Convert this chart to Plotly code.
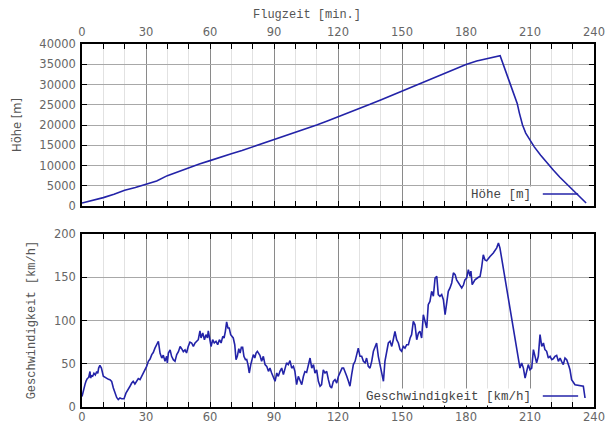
import plotly.graph_objects as go

# ---------------- data ----------------
hoehe_t = [0, 5, 10, 15, 20, 25, 30, 35, 40, 45, 50, 55, 60, 65, 70, 75, 80, 85, 90, 95,
           100, 105, 110, 115, 120, 125, 130, 135, 140, 145, 150, 155, 160, 165, 170,
           175, 180, 185, 190, 196, 200, 204, 205, 206.5, 208, 210, 212, 215, 218, 221,
           224, 227, 230, 233, 236.3]
hoehe_m = [740, 1380, 2070, 2900, 3880, 4550, 5290, 6200, 7500, 8500, 9500, 10400, 11200,
           12100, 12900, 13700, 14600, 15400, 16300, 17200, 18100, 19000, 20000, 21000,
           22000, 23000, 24100, 25100, 26200, 27300, 28400, 29500, 30600, 31700, 32700,
           33700, 34950, 35800, 36450, 37100, 31200, 25330, 23000, 20000, 18000, 16250,
           14600, 12540, 10600, 8830, 7100, 5540, 3900, 2300, 740]

speed_t = [0.0, 0.5, 0.9, 1.5, 1.9, 2.5, 3.1, 3.75, 4.0, 4.5, 5.0, 5.6, 6.25, 6.9, 7.4, 7.8,
           8.4, 9.1, 10.0, 10.8, 11.6, 12.4, 13.1, 13.9, 14.7, 15.5, 16.25, 17.0, 17.8, 18.6,
           19.7, 20.6, 21.7, 22.5, 23.3, 24.0, 24.8, 25.6, 26.4, 27.2, 28.0, 28.75, 29.5, 30.3,
           31.1, 31.9, 32.7, 33.4, 34.2, 35.0, 35.8, 36.6, 37.4, 38.1, 38.9, 39.7, 40.0, 40.5,
           41.3, 42.0, 42.8, 43.6, 44.4, 45.2, 46.0, 46.7, 47.5, 48.3, 49.0, 49.8, 50.6, 51.4,
           52.2, 53.0, 53.8, 54.5, 55.3, 55.8, 56.6, 57.4, 58.1, 58.8, 59.2, 59.7, 60.5, 61.25,
           62.0, 62.8, 63.6, 64.4, 65.2, 66.0, 66.6, 67.2, 67.8, 68.4, 69.0, 69.7, 70.3, 70.9,
           71.6, 72.2, 72.8, 73.5, 74.1, 74.7, 75.3, 75.9, 76.6, 77.2, 77.8, 78.4, 79.1, 79.7,
           80.3, 81.0, 81.6, 82.2, 82.8, 83.4, 84.2, 85.0, 85.8, 86.6, 87.4, 88.1, 88.9, 89.7,
           90.5, 91.3, 92.0, 92.8, 93.6, 94.4, 95.2, 95.9, 96.7, 97.5, 98.3, 99.1, 99.8, 100.6,
           101.4, 102.2, 103.0, 103.8, 104.5, 105.3, 106.1, 106.9, 107.7, 108.5, 109.2, 110.0,
           110.8, 111.6, 112.3, 113.1, 113.9, 114.7, 115.5, 116.3, 117.0, 117.8, 118.6, 119.4,
           120.2, 121.0, 121.9, 122.6, 123.3, 124.1, 124.9, 125.6, 126.4, 127.2, 128.0, 128.8,
           129.5, 130.3, 131.1, 131.9, 132.7, 133.4, 134.2, 135.0, 135.8, 136.6, 137.3, 138.1,
           138.9, 139.7, 140.5, 141.3, 142.0, 142.8, 143.6, 144.4, 145.2, 145.9, 146.7, 147.5,
           148.3, 149.1, 149.8, 150.6, 151.4, 152.2, 153.0, 153.8, 154.5, 155.3, 156.1, 156.9,
           157.7, 158.4, 159.2, 160.0, 160.8, 161.6, 162.3, 163.1, 163.9, 164.7, 165.5, 166.3,
           167.0, 167.8, 168.6, 169.4, 170.2, 171.0, 171.7, 172.5, 173.3, 174.1, 174.9, 175.6,
           176.4, 177.2, 178.0, 178.8, 179.5, 180.3, 181.1, 181.9, 182.3, 182.9, 184.2, 185.8,
           186.6, 187.3, 188.1, 188.9, 189.7, 191.25, 192.8, 194.4, 195.2, 195.9, 197.5, 199.0,
           200.6, 202.2, 203.8, 204.5, 205.3, 206.1, 206.9, 207.7, 208.4, 209.2, 210.0, 210.8,
           211.6, 212.3, 213.1, 213.9, 214.7, 215.5, 216.3, 217.0, 217.8, 218.6, 219.4, 220.2,
           221.0, 221.7, 222.5, 223.3, 224.1, 224.8, 225.6, 226.4, 227.2, 228.0, 228.75, 229.5,
           231.1, 235.0, 235.8]
speed_v = [12, 18, 22, 27, 30, 33, 34, 41, 33.5, 36, 35.5, 39, 37, 41, 39, 45,
           48, 45, 35.5, 34, 33.5, 32, 31.6, 29.7, 22, 16, 11, 8.5, 10.4, 9.6,
           9.6, 16, 20, 24, 27.7, 29.7, 26.6, 30.4, 32.8, 31.6, 35.5, 39.3, 43, 47,
           52.8, 55.5, 60.5, 63, 68, 73, 76, 62, 56.6, 60, 52.8, 58.6, 51, 62.4,
           66, 58.6, 54.7, 52.8, 60.5, 64, 70, 67.4, 64, 66, 62.4, 70, 75, 74,
           70, 74, 76, 77.8, 88, 79.8, 85.5, 77.8, 83.6, 79.8, 88, 80.5, 70, 77.8,
           74, 76, 72, 77.8, 74, 81.7, 79.8, 87.5, 98.3, 91.3, 91.3, 83.6, 81.7, 79.8,
           72, 54.7, 58.6, 67.4, 62.4, 69, 69, 58.6, 54.7, 55, 49, 39.3, 49, 56.6,
           60.5, 56.6, 62.4, 64.4, 62.4, 59.7, 52.8, 58.6, 49, 47, 41.2, 45, 39.3, 33.5,
           29.7, 39.3, 35.5, 41.2, 45, 37.4, 45, 51, 49, 53.6, 45, 47, 41.2, 25.8,
           35.5, 29.7, 25.8, 35.5, 41, 40, 47, 56.6, 45, 49, 39.3, 43,
           29.7, 24, 25.8, 43, 39.3, 41.2, 31.6, 24, 22, 29.7, 31.6, 27.7,
           35.5, 41.2, 45, 45, 41.2, 35.5, 29.7, 24, 37.4, 49, 52.8, 62.4,
           68, 58.6, 58.6, 52.8, 51, 56.6, 47, 45, 52.8, 64.4, 70, 74,
           58.6, 49, 35.5, 29.7, 52.8, 62.4, 74, 76, 70, 77.8, 87.5, 77.8,
           74, 66.3, 64.4, 70, 68, 72, 72, 79.8, 83.6, 99, 95, 77.8,
           85.5, 87.5, 79.8, 106.7, 99, 91.3, 118.3, 122, 133.7, 128, 149, 151,
           130, 128, 130, 124, 106.7, 120, 133.7, 137.6, 143.4, 155, 153, 147,
           143.4, 141.4, 137.6, 141, 147, 149, 158.8, 151, 157, 141.4, 147, 150,
           151, 160.7, 176, 170, 169, 174, 178, 184, 189.6, 184, 160.7, 137.6,
           114.5, 91.3, 72, 56.6, 45, 51, 45, 33.5, 41.2, 49, 43, 45,
           66.3, 60.5, 51, 58.6, 83.6, 70, 74, 66.3, 64.4, 56.6, 58.6, 54.7,
           56, 58.6, 59.7, 52.8, 56.6, 52.8, 49, 56.6, 54.7, 49, 43, 31.6,
           25.8, 24, 10.4]

x_ticks = [0, 30, 60, 90, 120, 150, 180, 210, 240]
name_h = "Höhe [m]"
name_v = "Geschwindigkeit [km/h]"

# ---------------- figure ----------------
LINE = "#2323a8"
TICKFONT = dict(family="DejaVu Sans", size=11.5, color="#666666")
MONO = "Liberation Mono"

fig = go.Figure()
fig.add_trace(go.Scatter(x=hoehe_t, y=hoehe_m, mode="lines", name=name_h,
                         line=dict(color=LINE, width=1.6), xaxis="x", yaxis="y"))
fig.add_trace(go.Scatter(x=speed_t, y=speed_v, mode="lines", name=name_v,
                         line=dict(color=LINE, width=1.6), xaxis="x2", yaxis="y2"))

xcommon = dict(range=[0, 240], tickvals=x_ticks, showgrid=True, gridcolor="#8a8a8a",
               gridwidth=1, ticks="inside", ticklen=5, tickcolor="black",
               showline=True, linecolor="black", linewidth=1.5, mirror="allticks",
               zeroline=False, tickfont=TICKFONT, automargin=False,
               minor=dict(dtick=10, showgrid=True, gridcolor="#e2e2e2", gridwidth=1,
                          ticks="inside", ticklen=5, tickcolor="black"))
ycommon = dict(showgrid=True, gridcolor="#a8a8a8", gridwidth=1, ticks="inside",
               ticklen=5, tickcolor="black", showline=True, linecolor="black",
               linewidth=1.5, mirror="allticks", zeroline=False, tickfont=TICKFONT,
               tickformat="d", automargin=False, ticklabelstandoff=2)

top_dom = [0.5537, 1.0]
bot_dom = [0.0, 0.4766]

# the page body adds an 8px offset, so the figure is 8px smaller on each axis
fig.update_layout(
    width=606, height=417,
    margin=dict(l=74, r=20, t=36, b=18),
    paper_bgcolor="white", plot_bgcolor="white",
    showlegend=False,
    xaxis=dict(**xcommon, side="top", anchor="y", domain=[0, 1], ticklabelstandoff=2),
    yaxis=dict(**ycommon, range=[0, 40000], dtick=5000, domain=top_dom, anchor="x"),
    xaxis2=dict(**xcommon, side="bottom", anchor="y2", domain=[0, 1], matches="x",
                ticklabelstandoff=-2),
    yaxis2=dict(**ycommon, range=[0, 200], dtick=50, domain=bot_dom, anchor="x2"),
)

# axis titles
fig.add_annotation(text="Flugzeit [min.]", xref="paper", yref="paper", x=0.4395,
                   y=1 + 29 / 363, xanchor="center", yanchor="middle", showarrow=False,
                   font=dict(family=MONO, size=12, color="#555555"))
fig.add_annotation(text=name_h, xref="paper", yref="paper", x=-0.127,
                   y=(top_dom[0] + top_dom[1]) / 2, textangle=-90,
                   xanchor="center", yanchor="middle", showarrow=False,
                   font=dict(family="DejaVu Sans", size=11.5, color="#555555"))
fig.add_annotation(text=name_v, xref="paper", yref="paper", x=-0.096,
                   y=(bot_dom[0] + bot_dom[1]) / 2, textangle=-90,
                   xanchor="center", yanchor="middle", showarrow=False,
                   font=dict(family=MONO, size=12, color="#555555"))

# legend-like keys (text + line sample)
for xr, yr, txt, ty in [("x domain", "y domain", name_h, 0.068),
                        ("x2 domain", "y2 domain", name_v, 0.058)]:
    fig.add_annotation(text=txt, xref=xr, yref=yr, x=0.881, y=ty, xanchor="right",
                       yanchor="middle", showarrow=False, bgcolor="white",
                       font=dict(family=MONO, size=12.5, color="#444444"))
    fig.add_shape(type="line", xref=xr, yref=yr, x0=0.900, x1=0.969, y0=ty + 0.006,
                  y1=ty + 0.006, line=dict(color=LINE, width=1.6), layer="above")

fig.write_html("out.html")
